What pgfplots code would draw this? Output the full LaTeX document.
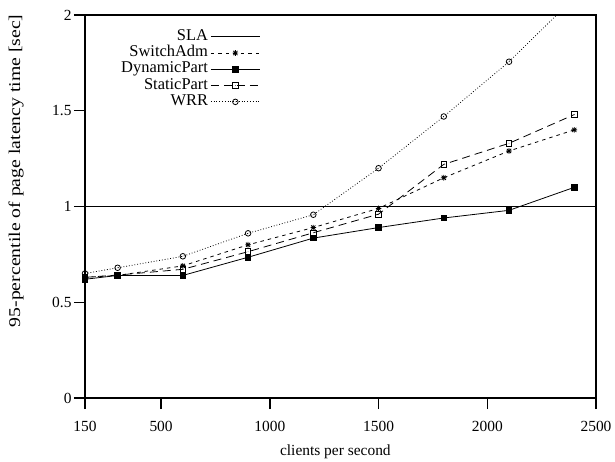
\documentclass[border=0pt]{standalone}
\usepackage{fontspec}
\setmainfont{Liberation Serif}
\usepackage{graphicx}
\usepackage{pgfplots}
\pgfplotsset{compat=1.18}

% gnuplot-like point types
\pgfdeclareplotmark{gpstar}{%
  \pgfpathmoveto{\pgfqpoint{-\pgfplotmarksize}{0pt}}\pgfpathlineto{\pgfqpoint{\pgfplotmarksize}{0pt}}%
  \pgfpathmoveto{\pgfqpoint{0pt}{-\pgfplotmarksize}}\pgfpathlineto{\pgfqpoint{0pt}{\pgfplotmarksize}}%
  \pgfpathmoveto{\pgfqpoint{-0.75\pgfplotmarksize}{-0.75\pgfplotmarksize}}\pgfpathlineto{\pgfqpoint{0.75\pgfplotmarksize}{0.75\pgfplotmarksize}}%
  \pgfpathmoveto{\pgfqpoint{-0.75\pgfplotmarksize}{0.75\pgfplotmarksize}}\pgfpathlineto{\pgfqpoint{0.75\pgfplotmarksize}{-0.75\pgfplotmarksize}}%
  \pgfusepathqstroke}
\pgfdeclareplotmark{gpbox}{%
  \pgfpathrectangle{\pgfqpoint{-\pgfplotmarksize}{-\pgfplotmarksize}}{\pgfqpoint{2\pgfplotmarksize}{2\pgfplotmarksize}}%
  \pgfusepathqstroke
  \pgfpathcircle{\pgfpointorigin}{0.35pt}\pgfusepathqfill}
\pgfdeclareplotmark{gpcircle}{%
  \pgfpathcircle{\pgfpointorigin}{\pgfplotmarksize}\pgfusepathqstroke
  \pgfpathcircle{\pgfpointorigin}{0.35pt}\pgfusepathqfill}

\begin{document}
\begin{tikzpicture}[font=\fontsize{15.5}{17}\selectfont]
\begin{axis}[
    scale only axis,
    width=511bp,
    height=383bp,
    xmin=150, xmax=2500,
    ymin=0, ymax=2,
    xtick={150,500,1000,1500,2000,2500},
    ytick={0,0.5,1,1.5,2},
    xtick pos=left, ytick pos=left,
    tick align=outside,
    major tick length=11bp,
    every tick/.style={line width=1.5pt, black},
    axis line style={line width=1.5pt},
    tick label style={font=\fontsize{15.5}{17}\selectfont},
    label style={font=\fontsize{15.5}{17}\selectfont},
    xticklabel style={yshift=-9bp},
    yticklabel style={xshift=1bp},
    /pgf/number format/assume math mode=true,
    /pgf/number format/1000 sep={},
    xlabel={clients per second},
    ylabel={\fontsize{16.5}{18}\selectfont\scalebox{1.2}[1]{95-percentile of page latency time [sec]}},
    xlabel style={at={(axis description cs:0.49,-0.14)}, anchor=center},
    ylabel style={at={(axis description cs:-0.135,0.593)}, anchor=center},
    clip=true,
    legend plot pos=right,
    legend cell align=right,
    legend style={draw=none, fill=none, inner sep=0pt, outer sep=0pt,
        at={(axis description cs:0.343,0.963)}, anchor=north east,
        row sep=1.3bp, column sep=0bp,
        font=\fontsize{16.5}{18}\selectfont,
        nodes={inner sep=0pt, outer sep=0pt, text height=11bp, text depth=4bp,
               inner xsep=2.5bp}},
    legend image code/.code={
        \draw[mark repeat=2, mark phase=2] plot coordinates {(0bp,0bp) (24.5bp,0bp) (49bp,0bp)};},
    every axis plot/.append style={line width=0.8pt, mark size=2.8bp},
]
\addplot[black, no marks, line width=0.6pt] coordinates {(150,1) (2500,1)};
\addlegendentry{SLA}
\addplot[black, dash pattern=on 3.5bp off 4bp, mark=gpstar, mark options={solid}] coordinates {
    (150,0.63) (300,0.64) (600,0.69) (900,0.80) (1200,0.89)
    (1500,0.99) (1800,1.15) (2100,1.29) (2400,1.40)
};
\addlegendentry{SwitchAdm}
\addplot[black, mark=square*, mark options={solid}] coordinates {
    (150,0.62) (300,0.64) (600,0.64) (900,0.735) (1200,0.835)
    (1500,0.89) (1800,0.94) (2100,0.98) (2400,1.10)
};
\addlegendentry{DynamicPart}
\addplot[black, dash pattern=on 8bp off 5bp, mark=gpbox, mark options={solid}] coordinates {
    (150,0.63) (300,0.642) (600,0.672) (900,0.764) (1200,0.863)
    (1500,0.96) (1800,1.22) (2100,1.33) (2400,1.48)
};
\addlegendentry{StaticPart}
\addplot[black, dotted, mark=gpcircle, mark options={solid}] coordinates {
    (150,0.65) (300,0.68) (600,0.74) (900,0.86) (1200,0.957)
    (1500,1.20) (1800,1.47) (2100,1.756) (2400,2.09)
};
\addlegendentry{WRR}
\end{axis}
\path (current axis.south west) ++(-85bp,-64bp);
\path (current axis.north east) ++(19bp,15bp);
\end{tikzpicture}
\end{document}
